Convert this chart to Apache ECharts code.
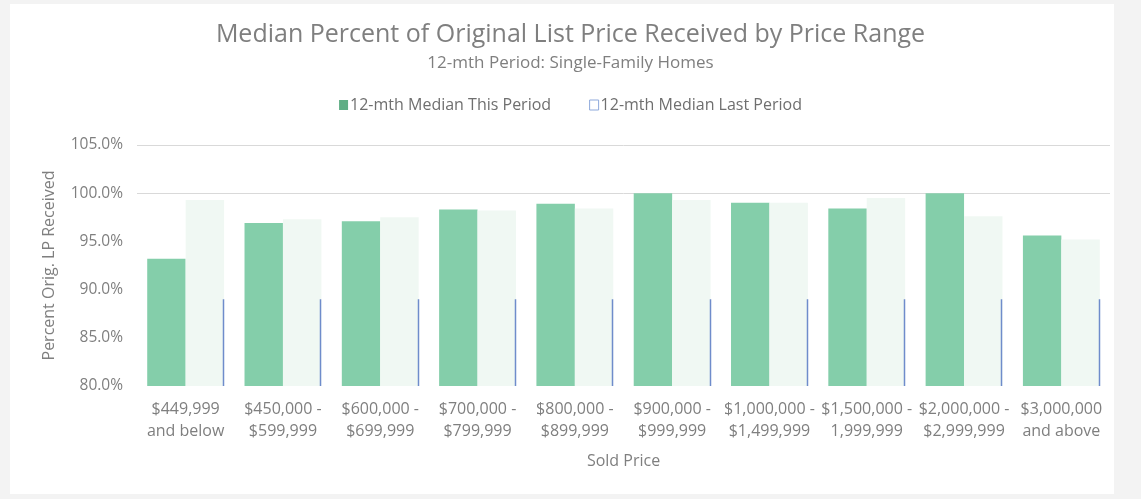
<!DOCTYPE html>
<html>
<head>
<meta charset="utf-8">
<script src="https://cdn.jsdelivr.net/npm/echarts@6/dist/echarts.min.js"></script>
<style>
  html, body { margin: 0; padding: 0; background: #f3f3f3; }
  #panel { position: absolute; left: 10px; top: 4px; width: 1104px; height: 490px; background: #fff; }
  #chart { position: absolute; left: 0; top: 0; width: 1141px; height: 499px; }
</style>
</head>
<body>
<div id="panel"></div>
<div id="chart"></div>
<script>
// Price ranges (two-line labels)
const categories = [
    '$449,999\nand below', '$450,000 -\n$599,999', '$600,000 -\n$699,999', '$700,000 -\n$799,999',
    '$800,000 -\n$899,999', '$900,000 -\n$999,999', '$1,000,000 -\n$1,499,999', '$1,500,000 -\n1,999,999',
    '$2,000,000 -\n$2,999,999', '$3,000,000\nand above'
];

// Median % of original list price received
const thisPeriod = [93.2, 96.9, 97.1, 98.3, 98.9, 100.0, 99.0, 98.4, 100.0, 95.6];
const lastPeriod = [99.3, 97.3, 97.5, 98.2, 98.4, 99.3, 99.0, 99.5, 97.6, 95.2];

const yTicks = [80, 85, 90, 95, 100, 105];

const textFont = '"Open Sans", Lato, sans-serif';
const chart = echarts.init(document.getElementById('chart'));

chart.setOption({
    animation: false,
    title: {
        text: 'Median Percent of Original List Price Received by Price Range',
        subtext: '12-mth Period: Single-Family Homes',
        left: 'center',
        top: 17,
        itemGap: 8,
        textStyle: { fontFamily: textFont, fontSize: 25, fontWeight: 'normal', color: '#7f7f7f' },
        subtextStyle: { fontFamily: textFont, fontSize: 17, color: '#7f7f7f' }
    },
    legend: {
        top: 92,
        left: 'center',
        itemWidth: 9,
        itemHeight: 10,
        itemGap: 38,
        textStyle: { fontFamily: textFont, fontSize: 16, color: '#6f6f6f', padding: [0, 0, 0, -3] },
        data: [
            { name: '12-mth Median This Period', icon: 'rect', itemStyle: { color: '#5fae85' } },
            { name: '12-mth Median Last Period', icon: 'rect', itemStyle: { color: '#ffffff', borderColor: '#8ea9db', borderWidth: 1 } }
        ]
    },
    grid: { left: 137, right: 31, top: 145, bottom: 113 },
    xAxis: {
        type: 'category',
        data: categories,
        name: 'Sold Price',
        nameLocation: 'middle',
        nameGap: 67,
        nameTextStyle: { fontFamily: textFont, fontSize: 16, color: '#7f7f7f' },
        axisLine: { show: false },
        axisTick: { show: false },
        axisLabel: { interval: 0, fontFamily: textFont, fontSize: 16, color: '#7f7f7f', lineHeight: 22, margin: 12 }
    },
    yAxis: {
        type: 'value',
        min: yTicks[0],
        max: yTicks[yTicks.length - 1],
        interval: 5,
        name: 'Percent Orig. LP Received',
        nameLocation: 'middle',
        nameGap: 80,
        nameTextStyle: { fontFamily: textFont, fontSize: 16, color: '#7f7f7f' },
        axisLine: { show: false },
        axisTick: { show: false },
        axisLabel: { fontFamily: textFont, fontSize: 15.5, color: '#7f7f7f', margin: 14, formatter: v => v.toFixed(1) + '%' },
        splitLine: { lineStyle: { color: ['transparent', 'transparent', 'transparent', 'transparent', '#d9d9d9', '#d9d9d9'] } }
    },
    series: [
        {
            name: '12-mth Median This Period',
            type: 'bar',
            data: thisPeriod,
            barGap: '0%',
            barCategoryGap: '21%',
            itemStyle: { color: '#84ceaa' }
        },
        {
            name: '12-mth Median Last Period',
            type: 'bar',
            data: lastPeriod,
            itemStyle: { color: '#f0f8f3' }
        },
        {
            // thin blue edge on the right of each last-period bar
            type: 'custom',
            data: lastPeriod.map((v, i) => [i, v]),
            silent: true,
            z: 10,
            renderItem: (params, api) => {
                const base = api.coord([api.value(0), 80]);
                const top = api.coord([api.value(0), Math.min(89, api.value(1))]);
                const half = api.size([1, 0])[0] * 0.79 / 2;
                const x = Math.round(base[0] + half) - 0.5;
                return {
                    type: 'line',
                    z2: 10,
                    shape: { x1: x, y1: base[1], x2: x, y2: top[1] },
                    style: { stroke: '#6f8ccb', lineWidth: 1.5 }
                };
            }
        }
    ]
});
</script>
</body>
</html>
